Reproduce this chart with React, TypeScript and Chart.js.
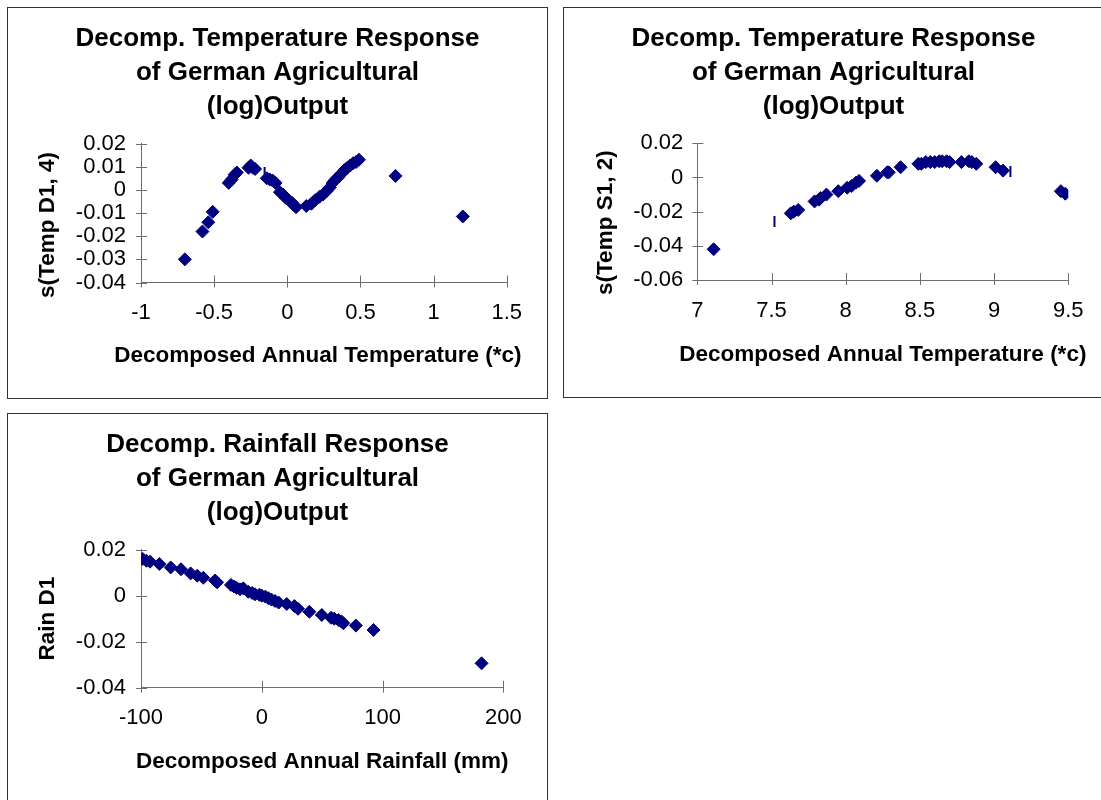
import React, { useEffect, useRef } from 'react';
import { Chart, registerables } from 'chart.js';

Chart.register(...registerables);

const FONT = '"Liberation Sans", Arial, Helvetica, sans-serif';
const NAVY = '#000080';
const AXIS = '#6e6e6e';

// ---------- Panel 1: Temp D1 ----------
const titleD1 = ['Decomp. Temperature Response', 'of German Agricultural', '(log)Output'];
const xTitleD1 = 'Decomposed Annual Temperature (*c)';
const yTitleD1 = 's(Temp D1, 4)';
const tempD1X = [-0.70, -0.58, -0.54, -0.51, -0.40, -0.38, -0.36, -0.345, -0.265, -0.25, -0.235, -0.22, -0.14, -0.12, -0.10, -0.08, -0.05, -0.03, -0.01, 0.01, 0.03, 0.045, 0.06, 0.13, 0.165, 0.19, 0.22, 0.245, 0.27, 0.29, 0.31, 0.33, 0.35, 0.37, 0.39, 0.41, 0.43, 0.45, 0.47, 0.49, 0.74, 1.20];
const tempD1Y = [-0.030, -0.018, -0.014, -0.0095, 0.003, 0.0045, 0.0065, 0.0075, 0.0095, 0.0105, 0.0095, 0.0090, 0.005, 0.0045, 0.004, 0.003, -0.001, -0.002, -0.0035, -0.0045, -0.0055, -0.0065, -0.0075, -0.007, -0.006, -0.0045, -0.003, -0.002, -0.0005, 0.001, 0.003, 0.0045, 0.0055, 0.007, 0.0085, 0.0095, 0.0105, 0.0115, 0.012, 0.013, 0.006, -0.0115];
const tempD1BarX = [-0.155];
const tempD1BarY = [0.0075];
const xTicksD1 = [-1, -0.5, 0, 0.5, 1, 1.5];
const xTickLabelsD1 = ['-1', '-0.5', '0', '0.5', '1', '1.5'];
const yTicksD1 = [-0.04, -0.03, -0.02, -0.01, 0, 0.01, 0.02];
const yTickLabelsD1 = ['-0.04', '-0.03', '-0.02', '-0.01', '0', '0.01', '0.02'];

// ---------- Panel 2: Temp S1 ----------
const titleS1 = ['Decomp. Temperature Response', 'of German Agricultural', '(log)Output'];
const xTitleS1 = 'Decomposed Annual Temperature (*c)';
const yTitleS1 = 's(Temp S1, 2)';
const tempS1X = [7.11, 7.63, 7.65, 7.68, 7.79, 7.82, 7.83, 7.87, 7.95, 8.01, 8.04, 8.07, 8.09, 8.21, 8.28, 8.29, 8.37, 8.49, 8.51, 8.54, 8.57, 8.60, 8.63, 8.65, 8.68, 8.70, 8.78, 8.83, 8.85, 8.88, 9.01, 9.06, 9.45, 9.48];
const tempS1Y = [-0.042, -0.021, -0.020, -0.019, -0.014, -0.013, -0.012, -0.010, -0.008, -0.006, -0.005, -0.003, -0.002, 0.001, 0.003, 0.003, 0.006, 0.008, 0.008, 0.009, 0.009, 0.009, 0.0095, 0.0095, 0.0095, 0.009, 0.009, 0.0095, 0.009, 0.008, 0.006, 0.004, -0.008, -0.0095];
const tempS1BarX = [7.52, 9.11];
const tempS1BarY = [-0.0257, 0.0035];
const xTicksS1 = [7, 7.5, 8, 8.5, 9, 9.5];
const xTickLabelsS1 = ['7', '7.5', '8', '8.5', '9', '9.5'];
const yTicksS1 = [-0.06, -0.04, -0.02, 0, 0.02];
const yTickLabelsS1 = ['-0.06', '-0.04', '-0.02', '0', '0.02'];

// ---------- Panel 3: Rain D1 ----------
const titleR = ['Decomp. Rainfall Response', 'of German Agricultural', '(log)Output'];
const xTitleR = 'Decomposed Annual Rainfall (mm)';
const yTitleR = 'Rain D1';
const rainX = [-98.6, -95.5, -92.5, -84.8, -75.4, -66.9, -58.9, -53.4, -48.4, -38.7, -37, -25.5, -23, -20.8, -18, -15.3, -11.2, -8, -5.6, -2, 0, 3, 5.5, 8, 11, 14, 20.7, 27, 30, 39.4, 49.7, 57.4, 60, 63.5, 66, 67.6, 77.9, 92.5, 182];
const rainY = [0.016, 0.0152, 0.0148, 0.0138, 0.0123, 0.0115, 0.0097, 0.0087, 0.0078, 0.0066, 0.0058, 0.0047, 0.0040, 0.0034, 0.0028, 0.0032, 0.0017, 0.0012, 0.0006, 0.0004, 0, -0.0004, -0.0011, -0.0017, -0.0023, -0.0030, -0.0036, -0.0045, -0.0057, -0.007, -0.0084, -0.0096, -0.0100, -0.0106, -0.0112, -0.0120, -0.013, -0.0149, -0.0294];
const xTicksR = [-100, 0, 100, 200];
const xTickLabelsR = ['-100', '0', '100', '200'];
const yTicksR = [-0.04, -0.02, 0, 0.02];
const yTickLabelsR = ['-0.04', '-0.02', '0', '0.02'];

const crossTicks = {
  id: 'crossTicks',
  beforeDatasetsDraw(chart: any) {
    const { ctx, chartArea, scales } = chart;
    ctx.save();
    ctx.strokeStyle = AXIS;
    ctx.lineWidth = 1;
    ctx.beginPath();
    scales.x.ticks.forEach((t: any) => {
      const px = Math.round(scales.x.getPixelForValue(t.value)) + 0.5;
      ctx.moveTo(px, chartArea.bottom - 7);
      ctx.lineTo(px, chartArea.bottom + 5);
    });
    scales.y.ticks.forEach((t: any) => {
      const py = Math.round(scales.y.getPixelForValue(t.value)) + 0.5;
      ctx.moveTo(chartArea.left - 5, py);
      ctx.lineTo(chartArea.left + 6, py);
    });
    ctx.stroke();
    ctx.restore();
  },
};

// Axis titles drawn on the chart canvas (Excel lets them run wider than the axis)
const axisTitles = {
  id: 'axisTitles',
  afterDraw(chart: any, _args: any, opts: any) {
    const { ctx, chartArea } = chart;
    ctx.save();
    ctx.fillStyle = '#000';
    ctx.textAlign = 'center';
    ctx.textBaseline = 'middle';
    ctx.font = `bold ${opts.size}px ${FONT}`;
    ctx.fillText(opts.xText, (chartArea.left + chartArea.right) / 2 + opts.xTitleDx, opts.xTitleY);
    ctx.translate(opts.yTitleX, (chartArea.top + chartArea.bottom) / 2 + opts.yTitleDy);
    ctx.rotate(-Math.PI / 2);
    ctx.fillText(opts.yText, 0, 0);
    ctx.restore();
  },
};

type Spec = {
  left: number; top: number; w: number; h: number;
  title: string[]; xTitle: string; yTitle: string;
  xs: number[]; ys: number[]; barXs?: number[]; barYs?: number[];
  xTicks: number[]; xLabels: string[]; yTicks: number[]; yLabels: string[];
  plotLeft: number; padR: number; yLabelPad: number; yTitleX: number; yTitleDy: number;
  titleBottom: number; xHeight: number; xLabelPad: number; xTitleY: number; xTitleDx: number;
};

function Panel({ s }: { s: Spec }) {
  const ref = useRef<HTMLCanvasElement | null>(null);
  const cw = s.w - 2;
  const ch = s.h - 2;
  useEffect(() => {
    if (!ref.current) return;
    const datasets: any[] = [
      {
        data: s.xs.map((x, i) => ({ x, y: s.ys[i] })),
        pointStyle: 'rectRot',
        pointRadius: 6.5,
        pointBackgroundColor: NAVY,
        pointBorderColor: NAVY,
        pointBorderWidth: 1,
        showLine: false,
      },
    ];
    if (s.barXs && s.barYs) {
      const bys = s.barYs;
      datasets.push({
        data: s.barXs.map((x, i) => ({ x, y: bys[i] })),
        pointStyle: 'line',
        pointRotation: 90,
        pointRadius: 5.5,
        pointBorderColor: NAVY,
        pointBorderWidth: 2,
        showLine: false,
      });
    }
    const chart = new Chart(ref.current, {
      type: 'scatter',
      data: { datasets },
      plugins: [crossTicks, axisTitles],
      options: {
        animation: false,
        responsive: false,
        devicePixelRatio: 1,
        layout: { padding: 0 },
        plugins: {
          legend: { display: false },
          tooltip: { enabled: false },
          title: {
            display: true,
            text: s.title,
            color: '#000',
            font: { family: FONT, size: 26, weight: 'bold', lineHeight: 34 / 26 },
            padding: { top: 14, bottom: s.titleBottom },
          },
          axisTitles: {
            xText: s.xTitle, yText: s.yTitle, size: 22.5,
            xTitleY: s.xTitleY, xTitleDx: s.xTitleDx, yTitleX: s.yTitleX, yTitleDy: s.yTitleDy,
          },
        },
        scales: {
          x: {
            type: 'linear',
            min: s.xTicks[0],
            max: s.xTicks[s.xTicks.length - 1],
            afterBuildTicks: (sc: any) => { sc.ticks = s.xTicks.map((v) => ({ value: v })); },
            afterFit: (sc: any) => { sc.height = s.xHeight; },
            grid: { display: false, drawTicks: false },
            border: { display: true, color: AXIS, width: 1 },
            ticks: {
              padding: s.xLabelPad,
              color: '#000',
              font: { family: FONT, size: 22 },
              maxRotation: 0,
              autoSkip: false,
              callback: (_v: any, i: number) => s.xLabels[i],
            },
            title: { display: false },
          },
          y: {
            type: 'linear',
            min: s.yTicks[0],
            max: s.yTicks[s.yTicks.length - 1],
            afterBuildTicks: (sc: any) => { sc.ticks = s.yTicks.map((v) => ({ value: v })); },
            afterFit: (sc: any) => { sc.width = s.plotLeft; },
            grid: { display: false, drawTicks: false },
            border: { display: true, color: AXIS, width: 1 },
            ticks: {
              padding: s.yLabelPad,
              color: '#000',
              font: { family: FONT, size: 22 },
              autoSkip: false,
              callback: (_v: any, i: number) => s.yLabels[i],
            },
            title: { display: false },
          },
          rightGap: {
            type: 'linear',
            position: 'right',
            display: true,
            afterFit: (sc: any) => { sc.width = s.padR; },
            grid: { display: false, drawTicks: false },
            border: { display: false },
            ticks: { display: false },
            title: { display: false },
          },
        },
      } as any,
    });
    return () => chart.destroy();
  }, []);
  return (
    <div
      style={{
        position: 'absolute',
        left: s.left,
        top: s.top,
        width: s.w,
        height: s.h,
        border: '1px solid #333',
        boxSizing: 'border-box',
        background: '#fff',
      }}
    >
      <canvas ref={ref} width={cw} height={ch} style={{ display: 'block', width: cw + 'px', height: ch + 'px' }} />
    </div>
  );
}

const specs: Spec[] = [
  {
    left: 7, top: 7, w: 541, h: 392,
    title: titleD1, xTitle: xTitleD1, yTitle: yTitleD1,
    xs: tempD1X, ys: tempD1Y, barXs: tempD1BarX, barYs: tempD1BarY,
    xTicks: xTicksD1, xLabels: xTickLabelsD1, yTicks: yTicksD1, yLabels: yTickLabelsD1,
    plotLeft: 133, padR: 40.3, yLabelPad: 15, yTitleX: 40, yTitleDy: 12,
    titleBottom: 19.5, xHeight: 115.5, xLabelPad: 17.6, xTitleY: 348, xTitleDx: -6,
  },
  {
    left: 563, top: 7, w: 541, h: 391,
    title: titleS1, xTitle: xTitleS1, yTitle: yTitleS1,
    xs: tempS1X, ys: tempS1Y, barXs: tempS1BarX, barYs: tempS1BarY,
    xTicks: xTicksS1, xLabels: xTickLabelsS1, yTicks: yTicksS1, yLabels: yTickLabelsS1,
    plotLeft: 133.3, padR: 34.7, yLabelPad: 14, yTitleX: 42, yTitleDy: 11,
    titleBottom: 19.3, xHeight: 117, xLabelPad: 17.8, xTitleY: 347, xTitleDx: 0,
  },
  {
    left: 7, top: 413, w: 541, h: 392,
    title: titleR, xTitle: xTitleR, yTitle: yTitleR,
    xs: rainX, ys: rainY,
    xTicks: xTicksR, xLabels: xTickLabelsR, yTicks: yTicksR, yLabels: yTickLabelsR,
    plotLeft: 133, padR: 43.7, yLabelPad: 15, yTitleX: 40, yTitleDy: 0,
    titleBottom: 19.7, xHeight: 116.3, xLabelPad: 17.1, xTitleY: 348, xTitleDx: 0,
  },
];

export default function App() {
  return (
    <div
      style={{
        position: 'fixed',
        left: 0,
        top: 0,
        width: 1101,
        height: 800,
        overflow: 'hidden',
        background: '#fff',
      }}
    >
      {specs.map((s, i) => (
        <Panel key={i} s={s} />
      ))}
    </div>
  );
}
